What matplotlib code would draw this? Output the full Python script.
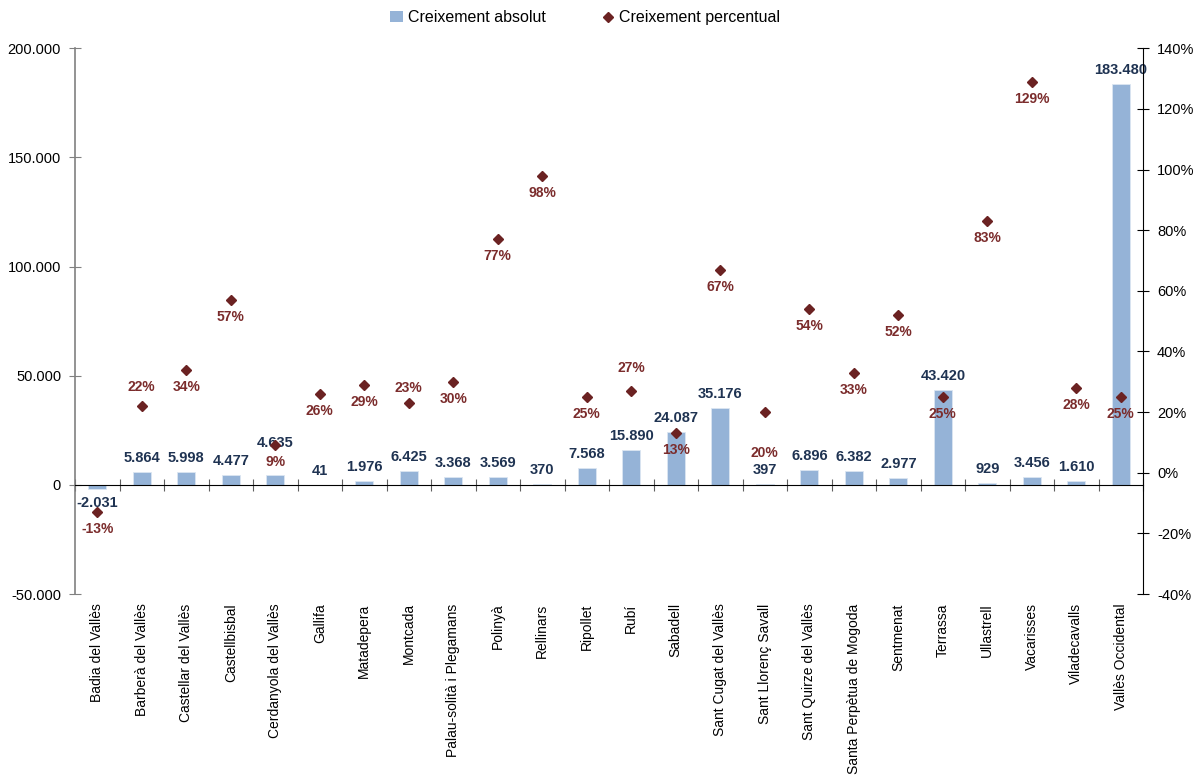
"""Creixement de població als municipis del Vallès Occidental."""
import matplotlib.pyplot as plt
import numpy as np
from matplotlib.lines import Line2D
from matplotlib.patches import Patch
from matplotlib.ticker import FuncFormatter

plt.rcParams["font.family"] = ["Liberation Sans", "DejaVu Sans"]

municipis = [
    "Badia del Vallès", "Barberà del Vallès", "Castellar del Vallès",
    "Castellbisbal", "Cerdanyola del Vallès", "Gallifa", "Matadepera",
    "Montcada", "Palau-solità i Plegamans", "Polinyà", "Rellinars",
    "Ripollet", "Rubí", "Sabadell", "Sant Cugat del Vallès",
    "Sant Llorenç Savall", "Sant Quirze del Vallès",
    "Santa Perpètua de Mogoda", "Sentmenat", "Terrassa", "Ullastrell",
    "Vacarisses", "Viladecavalls", "Vallès Occidental",
]
creixement_absolut = [
    -2031, 5864, 5998, 4477, 4635, 41, 1976, 6425, 3368, 3569, 370, 7568,
    15890, 24087, 35176, 397, 6896, 6382, 2977, 43420, 929, 3456, 1610, 183480,
]
creixement_percentual = [
    -13, 22, 34, 57, 9, 26, 29, 23, 30, 77, 98, 25,
    27, 13, 67, 20, 54, 33, 52, 25, 83, 129, 28, 25,
]

# desplaçaments especials de les etiquetes (píxels)
desp_pct = {1: 19, 7: 15, 12: 23, 15: -41}
desp_abs = {4: 32}

COLOR_BARRA = "#95b3d7"
COLOR_MARCA = "#6b2222"
COLOR_TEXT_ABS = "#1f3352"
COLOR_TEXT_PCT = "#7b2c2c"


def fmt_milers(v, _pos=None):
    s = f"{abs(int(round(v))):,}".replace(",", ".")
    return ("-" if v < 0 else "") + s


fig = plt.figure(figsize=(12.02, 7.78), dpi=100)
ax = fig.add_axes([0.0624, 0.2365, 0.8886, 0.7015])
ax2 = ax.twinx()

x = np.arange(len(municipis))
ax.bar(x, creixement_absolut, width=0.4, color=COLOR_BARRA,
       edgecolor="#dce6f2", linewidth=0.6, zorder=2)

ax.set_xlim(-0.5, len(municipis) - 0.5)
ax.set_ylim(-50000, 200000)
ax.set_yticks(np.arange(-50000, 200001, 50000))
ax.yaxis.set_major_formatter(FuncFormatter(fmt_milers))
ax.tick_params(axis="y", direction="inout", length=8, color="#808080",
               labelsize=10.5, pad=6)

# eix de categories a la línia del zero
ax.spines["bottom"].set_position(("data", 0))
ax.spines["top"].set_visible(False)
ax.spines["right"].set_visible(False)
ax.spines["left"].set_color("#808080")
ax.spines["left"].set_linewidth(1.2)
ax.set_xticks(np.arange(-0.5, len(municipis), 1.0))
ax.set_xticklabels([])
ax.tick_params(axis="x", direction="inout", length=8, color="#606060")

for i, nom in enumerate(municipis):
    ax.text(i, -0.017, nom, transform=ax.get_xaxis_transform(),
            rotation=90, ha="center", va="top", fontsize=10)

for i, v in enumerate(creixement_absolut):
    off = desp_abs.get(i, 14)
    if v < 0:
        off = -off
    ax.annotate(fmt_milers(v), (i, v), xytext=(0, off),
                textcoords="offset pixels", ha="center", va="center",
                fontsize=10.5, fontweight="bold", color=COLOR_TEXT_ABS,
                zorder=4)

ax2.plot(x, creixement_percentual, linestyle="none", marker="D",
         markersize=5, color=COLOR_MARCA, zorder=3)
ax2.set_ylim(-40, 140)
ax2.set_yticks(np.arange(-40, 141, 20))
ax2.yaxis.set_major_formatter(FuncFormatter(lambda v, _p: f"{int(v)}%"))
ax2.tick_params(axis="y", direction="inout", length=8, labelsize=10.5, pad=6)
for s in ("top", "bottom", "left"):
    ax2.spines[s].set_visible(False)

for i, v in enumerate(creixement_percentual):
    off = desp_pct.get(i, -17)
    ax2.annotate(f"{v}%", (i, v), xytext=(0, off),
                 textcoords="offset pixels", ha="center", va="center",
                 fontsize=10, fontweight="bold", color=COLOR_TEXT_PCT, zorder=4)

handles = [
    Patch(facecolor=COLOR_BARRA, label="Creixement absolut"),
    Line2D([], [], linestyle="none", marker="D", markersize=5,
           color=COLOR_MARCA, label="Creixement percentual"),
]
fig.legend(handles=handles, loc="center", bbox_to_anchor=(0.487, 0.977),
           ncol=2, frameon=False, fontsize=11.5, handlelength=0.8,
           handletextpad=0.3, columnspacing=3.5)

fig.savefig("out.png", dpi=100)
